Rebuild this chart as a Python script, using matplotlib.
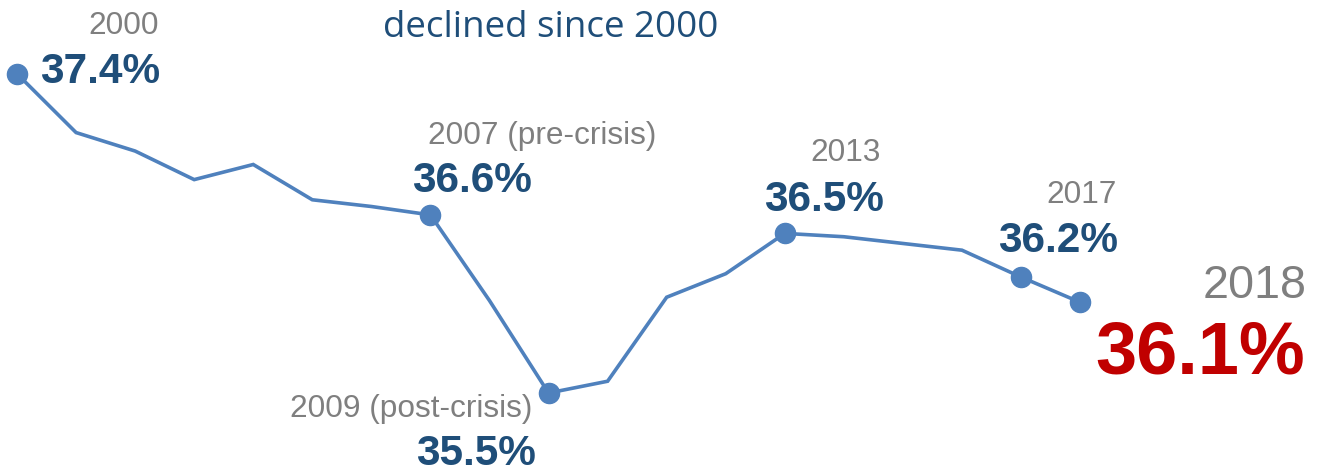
import matplotlib
matplotlib.use("Agg")
import matplotlib.pyplot as plt

years = list(range(2000, 2019))
values = [37.42, 37.07, 36.96, 36.79, 36.88, 36.67, 36.63, 36.58, 36.07, 35.52,
          35.59, 36.09, 36.23, 36.47, 36.45, 36.41, 36.37, 36.21, 36.06]

highlight_years = [2000, 2007, 2009, 2013, 2017, 2018]
year_labels = ["2000", "2007 (pre-crisis)", "2009 (post-crisis)", "2013", "2017", "2018"]
value_labels = ["37.4%", "36.6%", "35.5%", "36.5%", "36.2%", "36.1%"]
title_text = "declined since 2000"

# offsets in pixels (dx, dy) for year label and value label, left/baseline anchored
year_offsets = [(71, 40), (-2, 71), (-259, -24), (26, 72), (25, 74), (123, 4)]
value_offsets = [(23, -9), (-18, 23), (-132, -72), (-21, 22), (-23, 25), (15, -71)]

LINE = "#4F81BD"
GRAY = "#7F7F7F"
BLUE = "#1F4E79"
RED = "#C00000"

fig = plt.figure(figsize=(13.24, 4.75), dpi=100)
ax = fig.add_axes([0, 0, 1, 1])
ax.set_xlim(1999.712, 2022.13)
ax.set_ylim(35.032, 37.859)
ax.axis("off")

mark_idx = [years.index(y) for y in highlight_years]
ax.plot(years, values, color=LINE, lw=2.6, marker="o", markersize=14.5,
        markevery=mark_idx, solid_joinstyle="miter", zorder=2)

for i, yr in enumerate(highlight_years):
    v = values[years.index(yr)]
    last = (yr == highlight_years[-1])
    ax.annotate(year_labels[i], xy=(yr, v), xytext=year_offsets[i],
                textcoords="offset pixels", ha="left", va="baseline",
                fontsize=33.7 if last else 22.8, color=GRAY,
                family="Liberation Sans")
    ax.annotate(value_labels[i], xy=(yr, v), xytext=value_offsets[i],
                textcoords="offset pixels", ha="left", va="baseline",
                fontsize=53.3 if last else 30.5, color=RED if last else BLUE,
                fontweight="bold", family="Liberation Sans")

fig.text(383 / 1324, 1 - 37 / 475, title_text, ha="left", va="baseline",
         fontsize=26.5, color=BLUE, family="Open Sans")

fig.savefig("out.png", dpi=100)
